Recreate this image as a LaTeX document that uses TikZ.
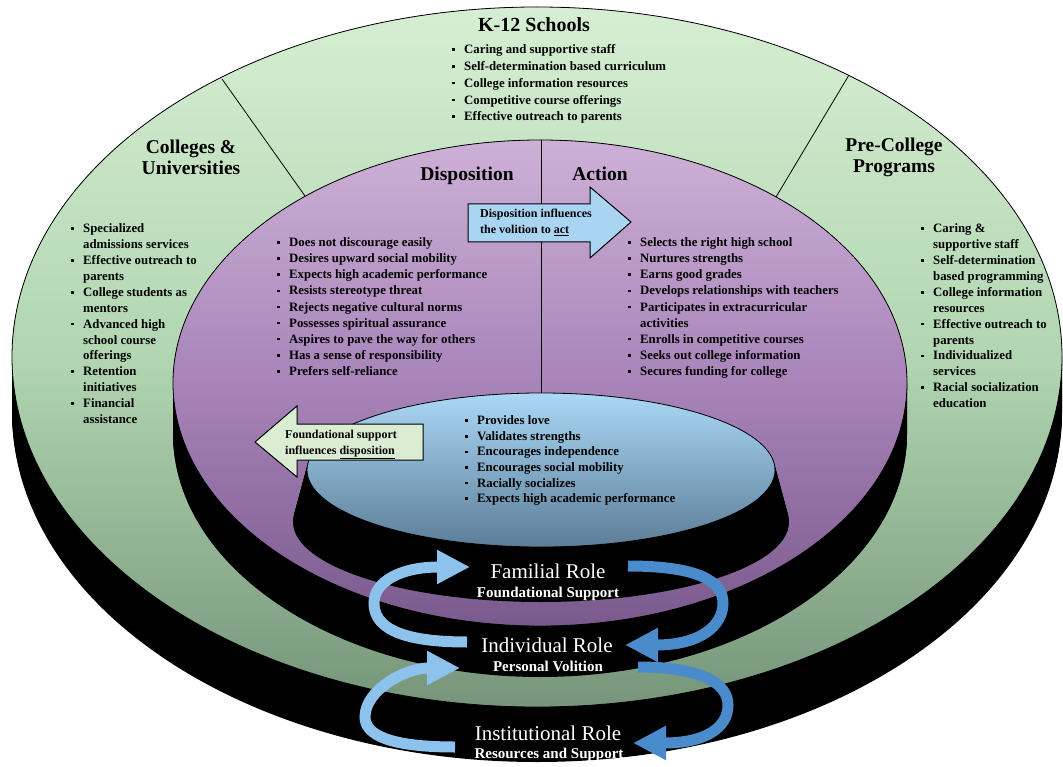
\documentclass[tikz,border=0pt]{standalone}
\usepackage{fontspec}
\setmainfont{Liberation Serif}
\usetikzlibrary{arrows.meta}
\definecolor{gtop}{HTML}{D6EED3}
\definecolor{gmid}{HTML}{B1D6B1}
\definecolor{gbot}{HTML}{76957A}
\definecolor{ptop}{HTML}{CDB0D6}
\definecolor{pmid}{HTML}{A884B9}
\definecolor{pbot}{HTML}{7A5A8C}
\definecolor{btop}{HTML}{AAD8F6}
\definecolor{bbot}{HTML}{5C7D97}
\definecolor{arrlight}{HTML}{8DC2EC}
\definecolor{arrdark}{HTML}{4A8CCB}
\definecolor{boxblue}{HTML}{A9D5F3}
\definecolor{boxgreen}{HTML}{DAEDD3}
\newcommand\lbul{\makebox[12pt][l]{\raisebox{0.22em}{\rule{2.6pt}{2.6pt}}}}
\newcommand\lcont{\hspace*{12pt}}
\begin{document}
\begin{tikzpicture}[x=1pt,y=-1pt,
  face/.style={draw=black, line width=0.8pt},
  listnode/.style={anchor=north west, inner sep=0pt, align=left, font=\fontsize{12.8}{16.1}\selectfont\bfseries},
  ttl/.style={inner sep=0pt, align=center, font=\fontsize{19.5}{21}\selectfont\bfseries},
  roleA/.style={inner sep=0pt, anchor=base, text=white, font=\fontsize{21}{22}\selectfont},
  roleB/.style={inner sep=0pt, anchor=base, text=white, font=\fontsize{15}{16}\selectfont\bfseries},
  ribbonlight/.style={draw=arrlight, line width=11pt, -{Triangle[length=33pt,width=32pt]}},
  ribbondark/.style={draw=arrdark, line width=11pt, -{Triangle[length=33pt,width=32pt]}},
  blockarrow/.style={draw=black, line width=1pt, line join=miter},
  divider/.style={draw=black, line width=0.8pt},
]
\useasboundingbox (0,0) rectangle (1063,767);

% ---------- outer green cylinder ----------
\foreach \i in {0,...,30}{
  \pgfmathsetmacro\myt{\i/30}
  \fill[black] (537,{357+55*\myt}) ellipse [x radius=525pt, y radius=350pt];
}
\path[face, top color=gtop, bottom color=gbot, middle color=gmid] (537,357) ellipse [x radius=525pt, y radius=350pt];

% ---------- purple cylinder ----------
\foreach \i in {0,...,30}{
  \pgfmathsetmacro\myt{\i/30}
  \fill[black] (540,{383+51*\myt}) ellipse [x radius=367pt, y radius=243pt];
}
\path[face, top color=ptop, bottom color=pbot, middle color=pmid] (540,383) ellipse [x radius=367pt, y radius=243pt];

% ---------- blue cylinder ----------
\foreach \i in {0,...,30}{
  \pgfmathsetmacro\myt{\i/30}
  \pgfmathsetmacro\rxx{234+14*\myt}
  \pgfmathsetmacro\ryy{77+3*\myt}
  \fill[black] (541,{470+52*\myt}) ellipse [x radius=\rxx pt, y radius=\ryy pt];
}
\path[face, top color=btop, bottom color=bbot] (541,470) ellipse [x radius=234pt, y radius=77pt];

% ---------- dividers ----------
\coordinate (dl1) at (222,79);
\coordinate (dl2) at (305,196);
\coordinate (dr1) at (849,75);
\coordinate (dr2) at (776,197);
\coordinate (vt) at (541,140);
\coordinate (vb) at (541,393);
\draw[divider] (dl1) -- (dl2);
\draw[divider] (dr1) -- (dr2);
\draw[divider] (vt) -- (vb);

% ---------- titles ----------
\node[ttl, anchor=base, font=\fontsize{20}{22}\selectfont\bfseries] (k12) at (534,32) {K-12 Schools};
\node[ttl] (colleges) at (191,157) {Colleges \&\\Universities};
\node[ttl] (precollege) at (894,157) {Pre-College\\Programs};
\node[ttl, anchor=base] (disp) at (467,181) {Disposition};
\node[ttl, anchor=base] (action) at (600,181) {Action};

% ---------- lists ----------
\node[listnode, font=\fontsize{12.8}{16.8}\selectfont\bfseries] (k12list) at (452,41.7) {\strut\lbul Caring and supportive staff\\
\lbul Self-determination based curriculum\\
\lbul College information resources\\
\lbul Competitive course offerings\\
\lbul Effective outreach to parents};

\node[listnode, font=\fontsize{12.8}{15.9}\selectfont\bfseries] (collist) at (71,221.4) {\strut\lbul Specialized\\
\lcont admissions services\\
\lbul Effective outreach to\\
\lcont parents\\
\lbul College students as\\
\lcont mentors\\
\lbul Advanced high\\
\lcont school course\\
\lcont offerings\\
\lbul Retention\\
\lcont initiatives\\
\lbul Financial\\
\lcont assistance};

\node[listnode, font=\fontsize{12.8}{15.9}\selectfont\bfseries] (prelist) at (921,221.4) {\strut\lbul Caring \&\\
\lcont supportive staff\\
\lbul Self-determination\\
\lcont based programming\\
\lbul College information\\
\lcont resources\\
\lbul Effective outreach to\\
\lcont parents\\
\lbul Individualized\\
\lcont services\\
\lbul Racial socialization\\
\lcont education};

\node[listnode] (displist) at (277,235.2) {\strut\lbul Does not discourage easily\\
\lbul Desires upward social mobility\\
\lbul Expects high academic performance\\
\lbul Resists stereotype threat\\
\lbul Rejects negative cultural norms\\
\lbul Possesses spiritual assurance\\
\lbul Aspires to pave the way for others\\
\lbul Has a sense of responsibility\\
\lbul Prefers self-reliance};

\node[listnode] (actlist) at (628,235.2) {\strut\lbul Selects the right high school\\
\lbul Nurtures strengths\\
\lbul Earns good grades\\
\lbul Develops relationships with teachers\\
\lbul Participates in extracurricular\\
\lcont activities\\
\lbul Enrolls in competitive courses\\
\lbul Seeks out college information\\
\lbul Secures funding for college};

\node[listnode, font=\fontsize{12.8}{15.6}\selectfont\bfseries] (famlist) at (465,413.6) {\strut\lbul Provides love\\
\lbul Validates strengths\\
\lbul Encourages independence\\
\lbul Encourages social mobility\\
\lbul Racially socializes\\
\lbul Expects high academic performance};

% ---------- block arrows ----------
\draw[blockarrow, fill=boxblue] (468,204) -- (590,204) -- (590,187) -- (631,222) -- (590,258) -- (590,242) -- (468,242) -- cycle;
\node[listnode, font=\fontsize{12}{16}\selectfont\bfseries] (dispact) at (480,206.3) {\strut Disposition influences\\the volition to \underline{act}};
\draw[blockarrow, fill=boxgreen] (423,424) -- (297,424) -- (297,406) -- (255,442) -- (297,477) -- (297,460) -- (423,460) -- cycle;
\node[listnode, font=\fontsize{12}{16}\selectfont\bfseries] (founddisp) at (285,427.3) {\strut Foundational support\\influences \underline{disposition}};

% ---------- roles ----------
\node[roleA] (fam) at (548,578) {Familial Role};
\node[roleB] (famsub) at (548,597) {Foundational Support};
\node[roleA] (ind) at (547,652) {Individual Role};
\node[roleB] (indsub) at (548,671) {Personal Volition};
\node[roleA] (inst) at (548,740) {Institutional Role};
\node[roleB] (instsub) at (549,758) {Resources and Support};

% ---------- cycle ribbons ----------
\coordinate (indW) at (467,642);
\coordinate (famW) at (470,567);
\coordinate (famE) at (628,566);
\coordinate (indE) at (625,645);
\coordinate (instW) at (455,747);
\coordinate (volW) at (460,668);
\coordinate (volE) at (638,667);
\coordinate (instE) at (633,743);
\draw[ribbonlight] (indW) .. controls (395,642) and (374,625) .. (374,603) .. controls (374,582) and (400,567) .. (famW);
\draw[ribbondark] (famE) .. controls (700,566) and (723,582) .. (723,603) .. controls (723,626) and (700,645) .. (indE);
\draw[ribbonlight] (instW) .. controls (390,747) and (365,735) .. (365,717) .. controls (365,690) and (405,668) .. (volW);
\draw[ribbondark] (volE) .. controls (705,667) and (728,685) .. (728,705) .. controls (728,728) and (705,743) .. (instE);
\end{tikzpicture}
\end{document}
